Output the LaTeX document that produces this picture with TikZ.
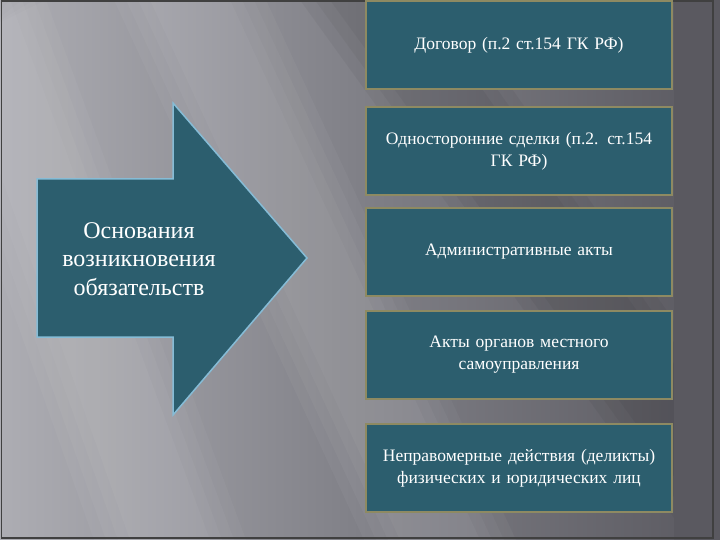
\documentclass[tikz,border=0pt]{standalone}
\usepackage{fontspec}
\setmainfont{Liberation Serif}
\definecolor{teal1}{HTML}{2C5E6E}
\definecolor{boxedge}{HTML}{8E8A62}
\definecolor{arredge}{HTML}{86BCD6}
\definecolor{bgA}{HTML}{ADADB3}
\definecolor{bgB}{HTML}{808087}
\definecolor{bgC}{HTML}{5A5960}
\begin{document}
\begin{tikzpicture}[x=1pt,y=-1pt,
  item/.style={draw=boxedge,line width=2pt,fill=teal1,minimum width=306pt,minimum height=88pt,
    text width=300pt,align=center,text=white,font=\fontsize{17.5}{22}\selectfont,inner sep=0pt},
  arrowtext/.style={text=white,align=center,font=\fontsize{24}{28.5}\selectfont},
  streak/.style={white,opacity=0.035}]
\useasboundingbox (0,0) rectangle (720,540);
% background
\shade[left color=bgA,right color=bgC,middle color=bgB] (0,0) rectangle (720,540);
\foreach \w in {0,12,24,36} {
  \fill[streak] (150-\w,0) -- (230+\w,0) -- (480+\w,540) -- (400-\w,540) -- cycle;
  \fill[streak] (-40-\w,60) -- (10+\w,0) -- (210+\w,540) -- (130-\w,540) -- cycle;
}
\foreach \w in {0,15,30} {
  \fill[black,opacity=0.04] (330-\w,0) -- (420+\w,0) -- (720+\w,430) -- (720-\w,540) -- cycle;
}
\fill[bgC] (674,0) rectangle (720,540);
\draw[black!75,line width=1.2pt] (1.5,1) -- (1.5,538) -- (713,538) -- (713,1) -- cycle;
% arrow
\draw[arredge,line width=1.5pt,fill=teal1,line join=miter]
  (37,179) -- (173,179) -- (173,103) -- (307,258) -- (173,415) -- (173,337) -- (37,337) -- cycle;
\node[arrowtext] (src) at (139,259) {Основания\\возникновения\\обязательств};
% boxes
\node[item] (b1) at (519,45) {Договор (п.2 ст.154 ГК РФ)};
\node[item] (b2) at (519,151) {Односторонние сделки (п.2. ст.154\\ГК РФ)};
\node[item] (b3) at (519,252) {Административные акты};
\node[item] (b4) at (519,355) {Акты органов местного\\самоуправления};
\node[item] (b5) at (519,468) {Неправомерные действия (деликты)\\физических и юридических лиц};
\end{tikzpicture}
\end{document}
